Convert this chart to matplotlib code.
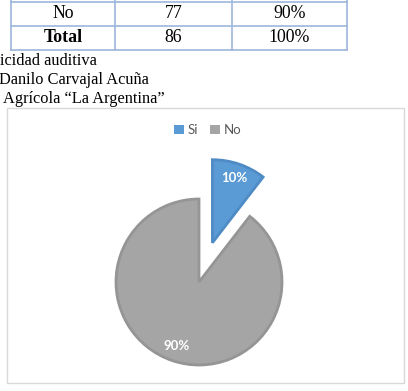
import matplotlib
matplotlib.use("Agg")
import matplotlib.pyplot as plt
from matplotlib.patches import Rectangle, Patch

# data
labels = ["Si", "No"]
counts = [9, 77]
colors = ["#5B9BD5", "#A5A5A5"]
edge_colors = ["#4F8BC4", "#959595"]

table_rows = [["No", "77", "90%"], ["Total", "86", "100%"]]
caption_lines = ["icidad auditiva", "Danilo Carvajal Acuña", "Agrícola “La Argentina”"]

W, H = 408, 391
fig = plt.figure(figsize=(W / 100, H / 100), dpi=100)

# page background in pixel coordinates
bg = fig.add_axes([0, 0, 1, 1])
bg.set_xlim(0, W)
bg.set_ylim(H, 0)
bg.axis("off")

# table (top rows only, cut by the screenshot)
line_c = "#9DB6DC"
col_x = [11, 115, 232, 347]
row_y = [2, 26, 50]
for y in row_y:
    bg.plot([col_x[0], col_x[-1]], [y, y], color=line_c, lw=1.2)
for x in col_x:
    bg.plot([x, x], [-5, row_y[-1]], color=line_c, lw=1.2)
for r, row in enumerate(table_rows):
    yc = (row_y[r] + row_y[r + 1]) / 2
    for c, txt in enumerate(row):
        xc = (col_x[c] + col_x[c + 1]) / 2
        bg.text(xc, yc, txt, ha="center", va="center", fontsize=12.8,
                family="Liberation Serif",
                fontweight="bold" if row[0] == "Total" and c == 0 else "normal")

cap_x = [0, -1, 3]
cap_y = [61, 80, 99]
for x, y, txt in zip(cap_x, cap_y, caption_lines):
    bg.text(x, y, txt, ha="left", va="center", fontsize=11.8,
            family="Liberation Serif")

# chart frame
bg.add_patch(Rectangle((7, 108), 397, 275, fill=False, ec="#D9D9D9", lw=1))

# pie: center (199, 282) px, radius 83 px
cx, cy, r, half = 199, 282, 83, 130
ax = fig.add_axes([(cx - half) / W, (H - cy - half) / H, 2 * half / W, 2 * half / H])
wedges, texts, autotexts = ax.pie(
    counts, colors=colors, startangle=90, counterclock=False,
    explode=[0.5, 0], autopct="%1.0f%%", pctdistance=0.82,
    wedgeprops=dict(linewidth=2),
    textprops=dict(color="white", fontsize=9.5, fontweight="bold", family="Lato"),
)
for w, ec in zip(wedges, edge_colors):
    w.set_edgecolor(ec)
s = half / r
ax.set_xlim(-s, s)
ax.set_ylim(-s, s)
ax.axis("off")

handles = [Patch(facecolor=c, edgecolor="none") for c in colors]
fig.legend(handles, labels, loc="center", bbox_to_anchor=(208 / W, 1 - 130 / H),
           ncol=2, frameon=False, handlelength=0.75, handleheight=0.75,
           handletextpad=0.3, columnspacing=0.9, labelcolor="#595959",
           prop=dict(family="Lato", size=9.5))

fig.savefig("out.png", dpi=100)
